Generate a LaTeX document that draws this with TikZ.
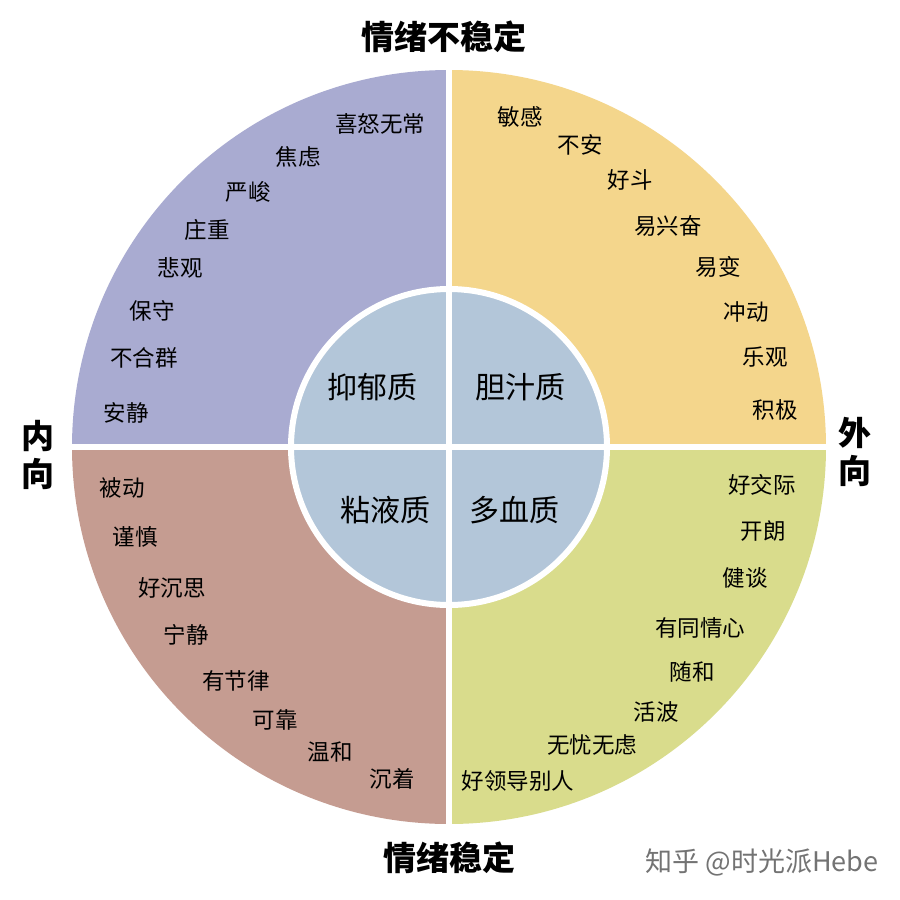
\documentclass[tikz,border=0pt]{standalone}
\usepackage{fontspec}
\newfontfamily\cjk{Noto Sans CJK SC}
\begin{document}
\begin{tikzpicture}[x=1pt,y=-1pt,
 lab/.style={font=\cjk\fontsize{22.5}{24}\selectfont,inner sep=0pt},
 inlab/.style={font=\cjk\fontsize{30}{32}\selectfont,inner sep=0pt},
 ttl/.style={font=\cjk\bfseries\fontsize{33}{38}\selectfont,inner sep=0pt,align=center}]
\definecolor{cTL}{HTML}{A9ABD1}
\definecolor{cTR}{HTML}{F4D68C}
\definecolor{cBL}{HTML}{C59C91}
\definecolor{cBR}{HTML}{D9DC8C}
\definecolor{cIn}{HTML}{B3C6D9}
\useasboundingbox (0,0) rectangle (900,900);
\fill[white] (0,0) rectangle (900,900);
\coordinate (c) at (449,447);
\begin{scope}\clip (0,0) rectangle (449,447); \fill[cTL] (c) circle (377); \end{scope}
\begin{scope}\clip (449,0) rectangle (900,447); \fill[cTR] (c) circle (377); \end{scope}
\begin{scope}\clip (0,447) rectangle (449,900); \fill[cBL] (c) circle (377); \end{scope}
\begin{scope}\clip (449,447) rectangle (900,900); \fill[cBR] (c) circle (377); \end{scope}
\fill[cIn,draw=white,line width=6] (c) circle (158);
\draw[white,line width=6] (449,65) -- (449,830) (66,447) -- (832,447);
\node[inlab] (a1) at (372,387) {抑郁质};
\node[inlab] (a2) at (520,387) {胆汁质};
\node[inlab] (a3) at (385,510) {粘液质};
\node[inlab] (a4) at (514,510) {多血质};
\foreach \t/\x/\y [count=\i] in {喜怒无常/380/124,焦虑/298/157,严峻/248/192,庄重/207/230,悲观/180/268,保守/152/311,不合群/144/358,安静/126/413,
敏感/520/117,不安/580/145,好斗/630/180,易兴奋/668/226,易变/718/267,冲动/746/312,乐观/765/357,积极/775/410,
被动/122/488,谨慎/135/537,好沉思/172/588,宁静/186/635,有节律/236/681,可靠/275/720,温和/330/752,沉着/392/779,
好交际/762/485,开朗/763/531,健谈/745/578,有同情心/700/628,随和/692/672,活波/656/712,无忧无虑/592/745,好领导别人/518/781}
  \node[lab] (t\i) at (\x,\y) {\t};
\node[ttl] (top) at (444,37) {情绪不稳定};
\node[ttl] (bot) at (449,858) {情绪稳定};
\node[ttl] (lft) at (38,455) {内\\向};
\node[ttl] (rgt) at (855,452) {外\\向};
\node[font=\cjk\fontsize{27}{29}\selectfont,text=black!55,inner sep=0pt] (wm) at (762,862) {知乎 @时光派Hebe};
\end{tikzpicture}
\end{document}
